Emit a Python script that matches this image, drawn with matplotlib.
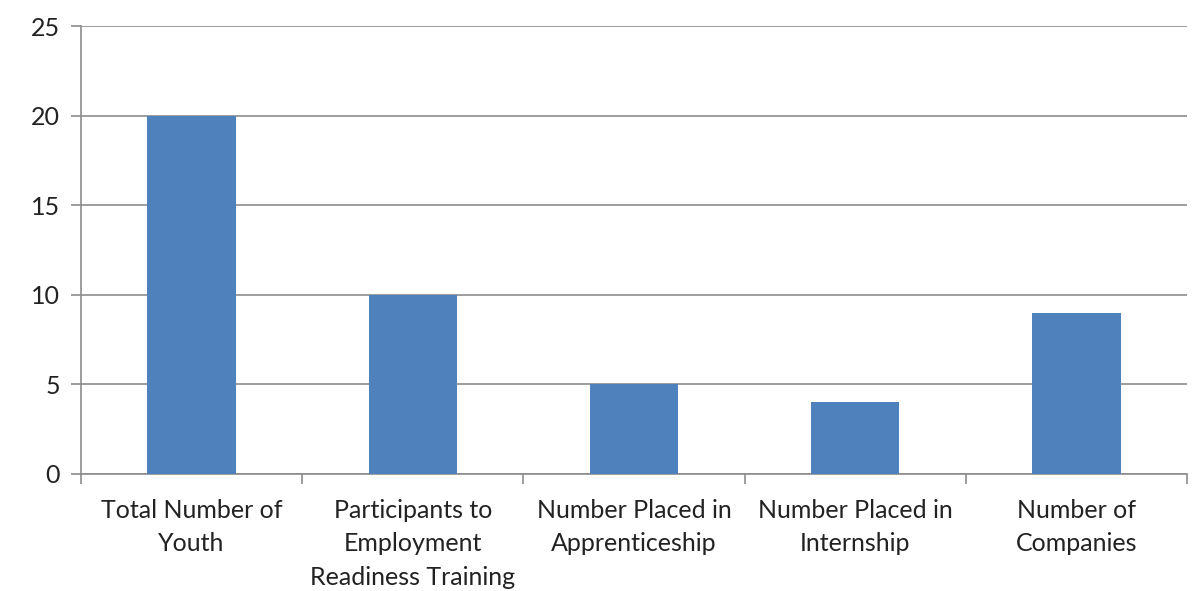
import numpy as np
import matplotlib.pyplot as plt

categories = ["Total Number of\nYouth",
              "Participants to\nEmployment\nReadiness Training",
              "Number Placed in\nApprenticeship",
              "Number Placed in\nInternship",
              "Number of\nCompanies"]
values = [20, 10, 5, 4, 9]

plt.rcParams['font.family'] = ['Lato', 'DejaVu Sans']

fig = plt.figure(figsize=(12.02, 5.91), dpi=100)
ax = fig.add_axes([0.0674, 0.198, 0.9201, 0.758])

x = np.arange(len(categories))
ax.bar(x, values, width=0.4, color='#4F81BD', zorder=3)

ax.set_xlim(-0.5, len(categories) - 0.5)
ax.set_ylim(0, 25)
ax.set_yticks(range(0, 26, 5))
ax.yaxis.grid(True, color='#8c8c8c', linewidth=1.2, zorder=0)

ax.set_xticks(x)
ax.set_xticklabels(categories, fontsize=18, linespacing=1.55, color='#222222')
ax.set_xticks(np.arange(-0.5, len(categories)), minor=True)
ax.tick_params(axis='x', which='major', length=0, pad=18)
ax.tick_params(axis='x', which='minor', length=7, color='#8c8c8c', width=1.2)
ax.tick_params(axis='y', length=7, color='#8c8c8c', width=1.2, labelsize=18,
               labelcolor='#222222', pad=8)

for s in ['top', 'right']:
    ax.spines[s].set_visible(False)
for s in ['left', 'bottom']:
    ax.spines[s].set_color('#8c8c8c')
    ax.spines[s].set_linewidth(1.2)

fig.savefig('out.png', dpi=100)
